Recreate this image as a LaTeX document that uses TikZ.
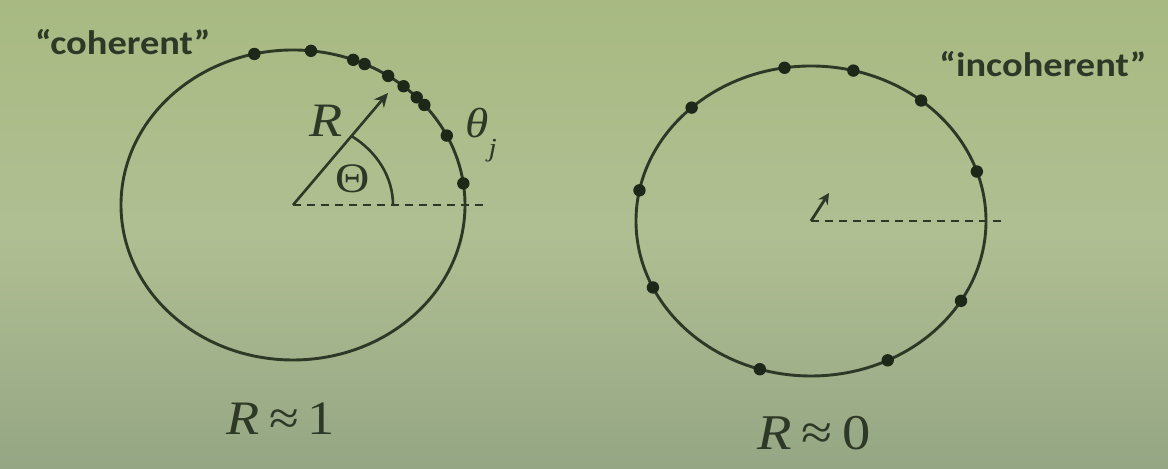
\documentclass[tikz,border=0pt]{standalone}
\usepackage{fontspec}
\usepackage{graphicx}
\setmainfont{Liberation Serif}
\newfontfamily\quotefont{Carlito}
\usetikzlibrary{calc,arrows.meta}
\definecolor{bgtop}{HTML}{A8BA82}
\definecolor{bgmid}{HTML}{B0BF92}
\definecolor{bgbot}{HTML}{95A684}
\definecolor{ink}{HTML}{2E3826}
\definecolor{dotc}{HTML}{1E2818}
\begin{document}
\begin{tikzpicture}[x=0.5pt,y=0.5pt,
  ring/.style={draw=ink, line width=1.45pt},
  pt/.style={circle, fill=dotc, inner sep=0pt, minimum size=6.2pt},
  guide/.style={draw=ink, line width=1.3pt, dash pattern=on 4pt off 3pt},
  vec/.style={draw=ink, line width=1.3pt, -{Stealth[length=7pt,width=6.5pt]}},
  smallvec/.style={draw=ink, line width=1.4pt, -{Stealth[length=5.5pt,width=5.5pt]}},
  quote/.style={text=ink, inner sep=0pt, font=\quotefont\bfseries\fontsize{17}{20}\selectfont},
  serif/.style={text=ink, inner sep=0pt},
]
\shade[top color=bgtop, bottom color=bgbot, middle color=bgmid] (0,0) rectangle (1168,469);
\useasboundingbox (0,0) rectangle (1168,469);

% ---------- left: coherent ----------
\coordinate (cL) at (293,264);
\draw[ring] (cL) ellipse [x radius=172, y radius=155];
\coordinate (dL) at (485,264);
\draw[guide] (cL) -- (dL);
\draw[ring, line width=1.3pt] ($(cL)+(100,0)$) arc[start angle=0, end angle=54, x radius=100, y radius=85];
\coordinate (tipL) at (388,376);
\draw[vec] (cL) -- (tipL);
\foreach \a [count=\i] in {103,84,69.5,65.4,56.4,50,44,40.2,26.6,8}
  \node[pt] (L\i) at ($(cL)+(\a:172 and 155)$) {};

\node[quote] (coh) at (123,427) {\scalebox{1.13}[1]{“coherent”}};
\node[serif, font=\fontsize{24}{28}\selectfont] (Rlab) at (326,348) {\scalebox{1.13}[1]{\textit{R}}};
\node[serif, font=\fontsize{21}{24}\selectfont] (Thlab) at (353,290) {\scalebox{1.13}[1]{Θ}};
\node[serif, font=\fontsize{21}{24}\selectfont] (thj) at (481,334) {\scalebox{1.13}[1]{\textit{θ}\raisebox{-0.45em}{\fontsize{13}{14}\selectfont\textit{j}}}};
\node[serif, anchor=base, font=\fontsize{24}{28}\selectfont] (r1) at (281,34) {\scalebox{1.13}[1]{\textit{R}\,≈\,1}};

% ---------- right: incoherent ----------
\coordinate (cR) at (811,248);
\draw[ring] (cR) ellipse [x radius=175, y radius=155];
\coordinate (dR) at (1005,248);
\draw[guide] (cR) -- (dR);
\coordinate (tipR) at (829,276);
\draw[smallvec] (cR) -- (tipR);
\foreach \a [count=\i] in {98.7,76,51,18.6,-31,-64,-107,-154.6,168.6,133}
  \node[pt] (R\i) at ($(cR)+(\a:175 and 155)$) {};

\node[quote] (inc) at (1043,405) {\scalebox{1.13}[1]{“incoherent”}};
\node[serif, anchor=base, font=\fontsize{25}{28}\selectfont] (r0) at (814,19) {\scalebox{1.13}[1]{\textit{R}\,≈\,0}};
\end{tikzpicture}
\end{document}
